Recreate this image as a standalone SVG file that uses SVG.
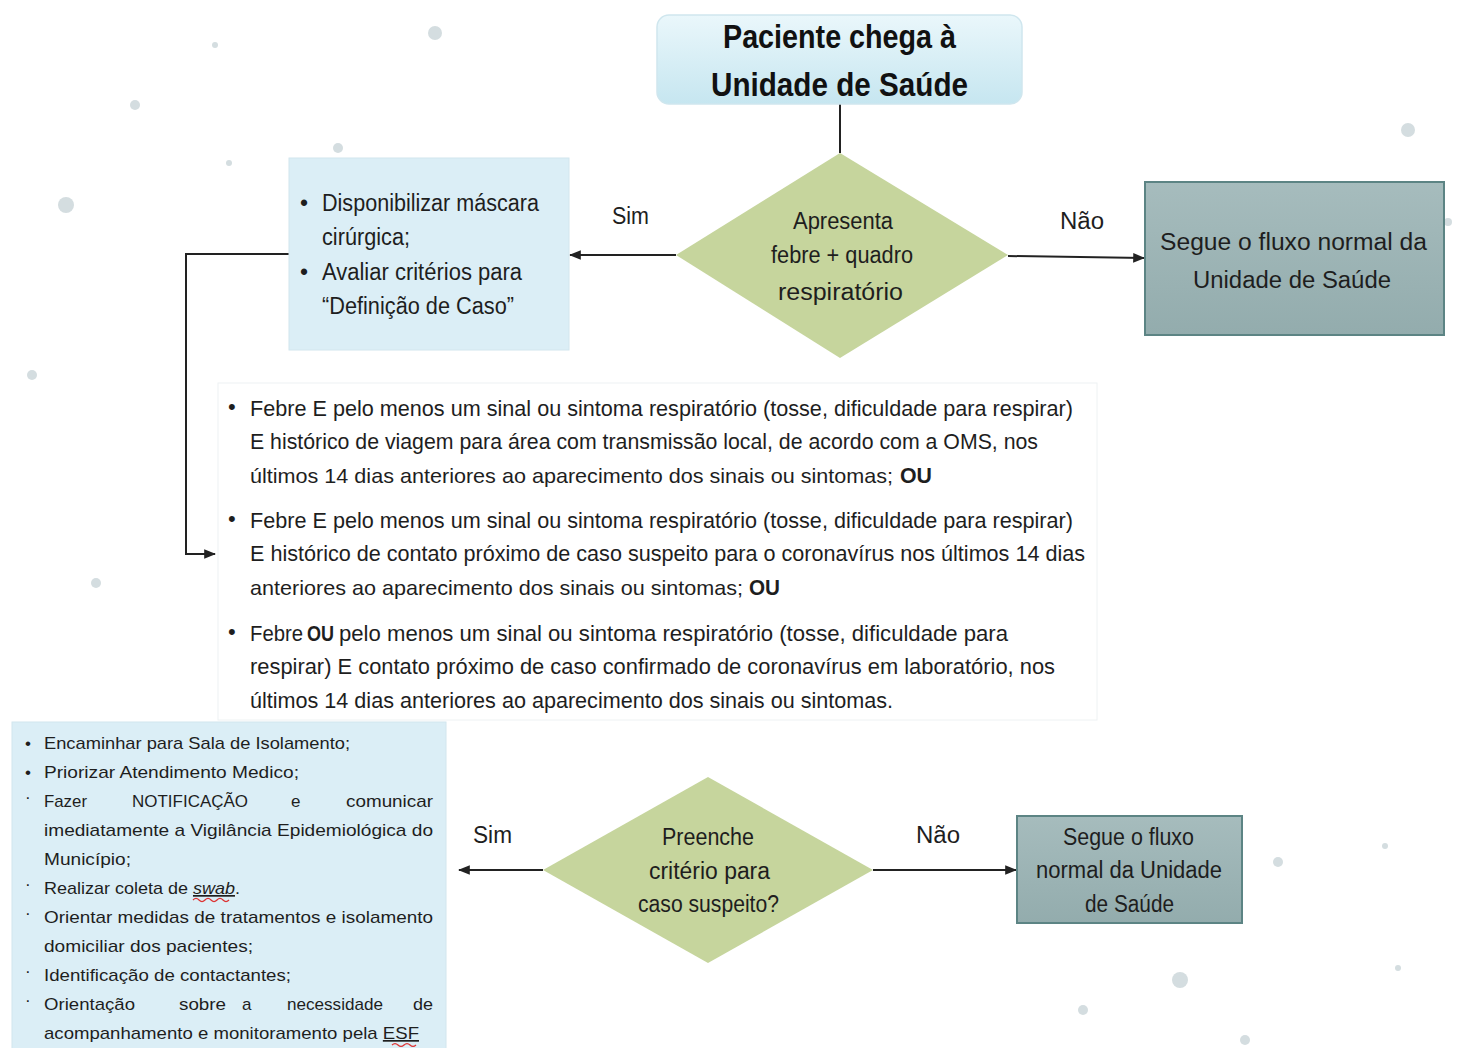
<svg xmlns="http://www.w3.org/2000/svg" width="1471" height="1048" viewBox="0 0 1471 1048">
<defs>
<style>
.t{font-family:"Liberation Sans Narrow","Liberation Sans",Arial,sans-serif;fill:#1e1e1e}
.c{font-size:22px}
.c2{font-size:21px}
.s{font-size:17px}
.n{font-size:23px}
.b{font-weight:bold}
.title{font-family:"Liberation Sans Narrow","Liberation Sans",Arial,sans-serif;font-size:34px;font-weight:bold;fill:#111}
.ln{stroke:#222;stroke-width:2;fill:none}
.dot{fill:#d4dde0}
</style>
<linearGradient id="gTop" x1="0" y1="0" x2="0" y2="1"><stop offset="0" stop-color="#eaf7fb"/><stop offset="1" stop-color="#c6e6f0"/></linearGradient>
<linearGradient id="gGray" x1="0" y1="0" x2="0" y2="1"><stop offset="0" stop-color="#a6bcbd"/><stop offset="1" stop-color="#93acad"/></linearGradient>
<marker id="arr" viewBox="0 0 10 10" refX="9" refY="5" markerWidth="6" markerHeight="6" orient="auto"><path d="M0,1 L10,5 L0,9 z" fill="#222"/></marker>
</defs>
<rect width="1471" height="1048" fill="#ffffff"/>
<g id="bg-dots">
<circle class="dot" cx="435" cy="33" r="7"/><circle class="dot" cx="135" cy="105" r="5"/><circle class="dot" cx="66" cy="205" r="8"/><circle class="dot" cx="338" cy="148" r="5"/><circle class="dot" cx="1408" cy="130" r="7"/><circle class="dot" cx="32" cy="375" r="5"/><circle class="dot" cx="96" cy="583" r="5"/><circle class="dot" cx="1180" cy="980" r="8"/><circle class="dot" cx="1278" cy="862" r="5"/><circle class="dot" cx="1083" cy="1010" r="5"/><circle class="dot" cx="1245" cy="1040" r="5"/><circle class="dot" cx="1448" cy="222" r="4"/><circle class="dot" cx="1385" cy="846" r="3"/><circle class="dot" cx="1398" cy="968" r="3"/><circle class="dot" cx="229" cy="163" r="3"/><circle class="dot" cx="215" cy="45" r="3"/>
</g>
<g id="connectors">
<line class="ln" x1="840" y1="104" x2="840" y2="153"/>
<line class="ln" x1="676" y1="255" x2="570" y2="255" marker-end="url(#arr)"/>
<line class="ln" x1="1008" y1="256" x2="1144" y2="258" marker-end="url(#arr)"/>
<polyline class="ln" points="289,254 186,254 186,554 215,554" marker-end="url(#arr)"/>
<line class="ln" x1="543" y1="870" x2="459" y2="870" marker-end="url(#arr)"/>
<line class="ln" x1="873" y1="870" x2="1016" y2="870" marker-end="url(#arr)"/>
<text class="t n" x="612" y="224" textLength="37" lengthAdjust="spacingAndGlyphs">Sim</text>
<text class="t n" x="1060" y="229" textLength="44" lengthAdjust="spacingAndGlyphs">Não</text>
<text class="t n" x="473" y="843" textLength="39" lengthAdjust="spacingAndGlyphs">Sim</text>
<text class="t n" x="916" y="843" textLength="44" lengthAdjust="spacingAndGlyphs">Não</text>
</g>
<g id="start">
<rect x="657" y="15" width="365" height="89" rx="12" fill="url(#gTop)" stroke="#cfe6ee" stroke-width="1.5"/>
<text class="title" x="723" y="48" textLength="233" lengthAdjust="spacingAndGlyphs">Paciente chega à</text>
<text class="title" x="711" y="96" textLength="257" lengthAdjust="spacingAndGlyphs">Unidade de Saúde</text>
</g>
<g id="decision1">
<polygon points="840,153 1008,255 840,358 676,255" fill="#c6d59d"/>
<text class="t n" x="793" y="229" textLength="100" lengthAdjust="spacingAndGlyphs">Apresenta</text>
<text class="t n" x="771" y="263" textLength="142" lengthAdjust="spacingAndGlyphs">febre + quadro</text>
<text class="t n" x="778" y="300" textLength="125" lengthAdjust="spacingAndGlyphs">respiratório</text>
</g>
<g id="normal1">
<rect x="1145" y="182" width="299" height="153" fill="url(#gGray)" stroke="#5c8484" stroke-width="2"/>
<text class="t n" x="1160" y="250" textLength="267" lengthAdjust="spacingAndGlyphs">Segue o fluxo normal da</text>
<text class="t n" x="1193" y="288" textLength="198" lengthAdjust="spacingAndGlyphs">Unidade de Saúde</text>
</g>
<g id="mask">
<rect x="289" y="158" width="280" height="192" fill="#dbeef6" stroke="#d2e6ee" stroke-width="1"/>
<text class="t n" x="300" y="211">•</text>
<text class="t n" x="322" y="211" textLength="217" lengthAdjust="spacingAndGlyphs">Disponibilizar máscara</text>
<text class="t n" x="322" y="245" textLength="88" lengthAdjust="spacingAndGlyphs">cirúrgica;</text>
<text class="t n" x="300" y="280">•</text>
<text class="t n" x="322" y="280" textLength="200" lengthAdjust="spacingAndGlyphs">Avaliar critérios para</text>
<text class="t n" x="322" y="314" textLength="192" lengthAdjust="spacingAndGlyphs">“Definição de Caso”</text>
</g>
<g id="criteria">
<rect x="218" y="383" width="879" height="337" fill="#ffffff" stroke="#eef2f3" stroke-width="1"/>
<text class="t c" x="228" y="414">•</text>
<text class="t c" x="250" y="416" textLength="823" lengthAdjust="spacingAndGlyphs">Febre E pelo menos um sinal ou sintoma respiratório (tosse, dificuldade para respirar)</text>
<text class="t c" x="250" y="449" textLength="788" lengthAdjust="spacingAndGlyphs">E histórico de viagem para área com transmissão local, de acordo com a OMS, nos</text>
<text class="t c2" x="250" y="483" textLength="643" lengthAdjust="spacingAndGlyphs">últimos 14 dias anteriores ao aparecimento dos sinais ou sintomas;</text>
<text class="t c b" x="900" y="483" textLength="32" lengthAdjust="spacingAndGlyphs">OU</text>
<text class="t c" x="228" y="526">•</text>
<text class="t c" x="250" y="528" textLength="823" lengthAdjust="spacingAndGlyphs">Febre E pelo menos um sinal ou sintoma respiratório (tosse, dificuldade para respirar)</text>
<text class="t c" x="250" y="561" textLength="835" lengthAdjust="spacingAndGlyphs">E histórico de contato próximo de caso suspeito para o coronavírus nos últimos 14 dias</text>
<text class="t c2" x="250" y="595" textLength="493" lengthAdjust="spacingAndGlyphs">anteriores ao aparecimento dos sinais ou sintomas;</text>
<text class="t c b" x="749" y="595" textLength="31" lengthAdjust="spacingAndGlyphs">OU</text>
<text class="t c" x="228" y="639">•</text>
<text class="t c" x="250" y="641" textLength="53" lengthAdjust="spacingAndGlyphs">Febre</text>
<text class="t c b" x="307" y="641" textLength="27" lengthAdjust="spacingAndGlyphs">OU</text>
<text class="t c" x="339" y="641" textLength="669" lengthAdjust="spacingAndGlyphs">pelo menos um sinal ou sintoma respiratório (tosse, dificuldade para</text>
<text class="t c" x="250" y="674" textLength="805" lengthAdjust="spacingAndGlyphs">respirar) E contato próximo de caso confirmado de coronavírus em laboratório, nos</text>
<text class="t c" x="250" y="708" textLength="643" lengthAdjust="spacingAndGlyphs">últimos 14 dias anteriores ao aparecimento dos sinais ou sintomas.</text>
</g>
<g id="actions">
<rect x="12" y="722" width="434" height="330" fill="#dbeef6" stroke="#d2e6ee" stroke-width="1"/>
<text class="t s" x="25" y="749">•</text>
<text class="t s" x="44" y="749" textLength="306" lengthAdjust="spacingAndGlyphs">Encaminhar para Sala de Isolamento;</text>
<text class="t s" x="25" y="778">•</text>
<text class="t s" x="44" y="778" textLength="255" lengthAdjust="spacingAndGlyphs">Priorizar Atendimento Medico;</text>
<text class="t s" x="25" y="803">·</text>
<text class="t s" x="44" y="807" textLength="43" lengthAdjust="spacingAndGlyphs">Fazer</text>
<text class="t s" x="132" y="807" textLength="116" lengthAdjust="spacingAndGlyphs">NOTIFICAÇÃO</text>
<text class="t s" x="291" y="807">e</text>
<text class="t s" x="346" y="807" textLength="87" lengthAdjust="spacingAndGlyphs">comunicar</text>
<text class="t s" x="44" y="836" textLength="389" lengthAdjust="spacingAndGlyphs">imediatamente a Vigilância Epidemiológica do</text>
<text class="t s" x="44" y="865" textLength="87" lengthAdjust="spacingAndGlyphs">Município;</text>
<text class="t s" x="25" y="890">·</text>
<text class="t s" x="44" y="894" textLength="196" lengthAdjust="spacingAndGlyphs">Realizar coleta de <tspan font-style="italic" text-decoration="underline">swab</tspan>.</text>
<path d="M193,900 q3,-3 6,0 t6,0 t6,0 t6,0 t6,0 t6,0" stroke="#d33" stroke-width="1.2" fill="none"/>
<text class="t s" x="25" y="919">·</text>
<text class="t s" x="44" y="923" textLength="389" lengthAdjust="spacingAndGlyphs">Orientar medidas de tratamentos e isolamento</text>
<text class="t s" x="44" y="952" textLength="209" lengthAdjust="spacingAndGlyphs">domiciliar  dos pacientes;</text>
<text class="t s" x="25" y="977">·</text>
<text class="t s" x="44" y="981" textLength="247" lengthAdjust="spacingAndGlyphs">Identificação de contactantes;</text>
<text class="t s" x="25" y="1006">·</text>
<text class="t s" x="44" y="1010" textLength="91" lengthAdjust="spacingAndGlyphs">Orientação</text>
<text class="t s" x="179" y="1010" textLength="47" lengthAdjust="spacingAndGlyphs">sobre</text>
<text class="t s" x="242" y="1010">a</text>
<text class="t s" x="287" y="1010" textLength="96" lengthAdjust="spacingAndGlyphs">necessidade</text>
<text class="t s" x="413" y="1010" textLength="20" lengthAdjust="spacingAndGlyphs">de</text>
<text class="t s" x="44" y="1039" textLength="375" lengthAdjust="spacingAndGlyphs">acompanhamento e monitoramento pela <tspan text-decoration="underline">ESF</tspan></text>
<path d="M392,1045 q3,-3 6,0 t6,0 t6,0 t6,0" stroke="#d33" stroke-width="1.2" fill="none"/>
</g>
<g id="decision2">
<polygon points="708,777 873,870 708,963 543,870" fill="#c6d59d"/>
<text class="t n" x="662" y="845" textLength="92" lengthAdjust="spacingAndGlyphs">Preenche</text>
<text class="t n" x="649" y="879" textLength="121" lengthAdjust="spacingAndGlyphs">critério para</text>
<text class="t n" x="638" y="912" textLength="141" lengthAdjust="spacingAndGlyphs">caso suspeito?</text>
</g>
<g id="normal2">
<rect x="1017" y="816" width="225" height="107" fill="url(#gGray)" stroke="#5c8484" stroke-width="2"/>
<text class="t n" x="1063" y="845" textLength="131" lengthAdjust="spacingAndGlyphs">Segue o fluxo</text>
<text class="t n" x="1036" y="878" textLength="186" lengthAdjust="spacingAndGlyphs">normal da Unidade</text>
<text class="t n" x="1085" y="912" textLength="89" lengthAdjust="spacingAndGlyphs">de Saúde</text>
</g>
</svg>
